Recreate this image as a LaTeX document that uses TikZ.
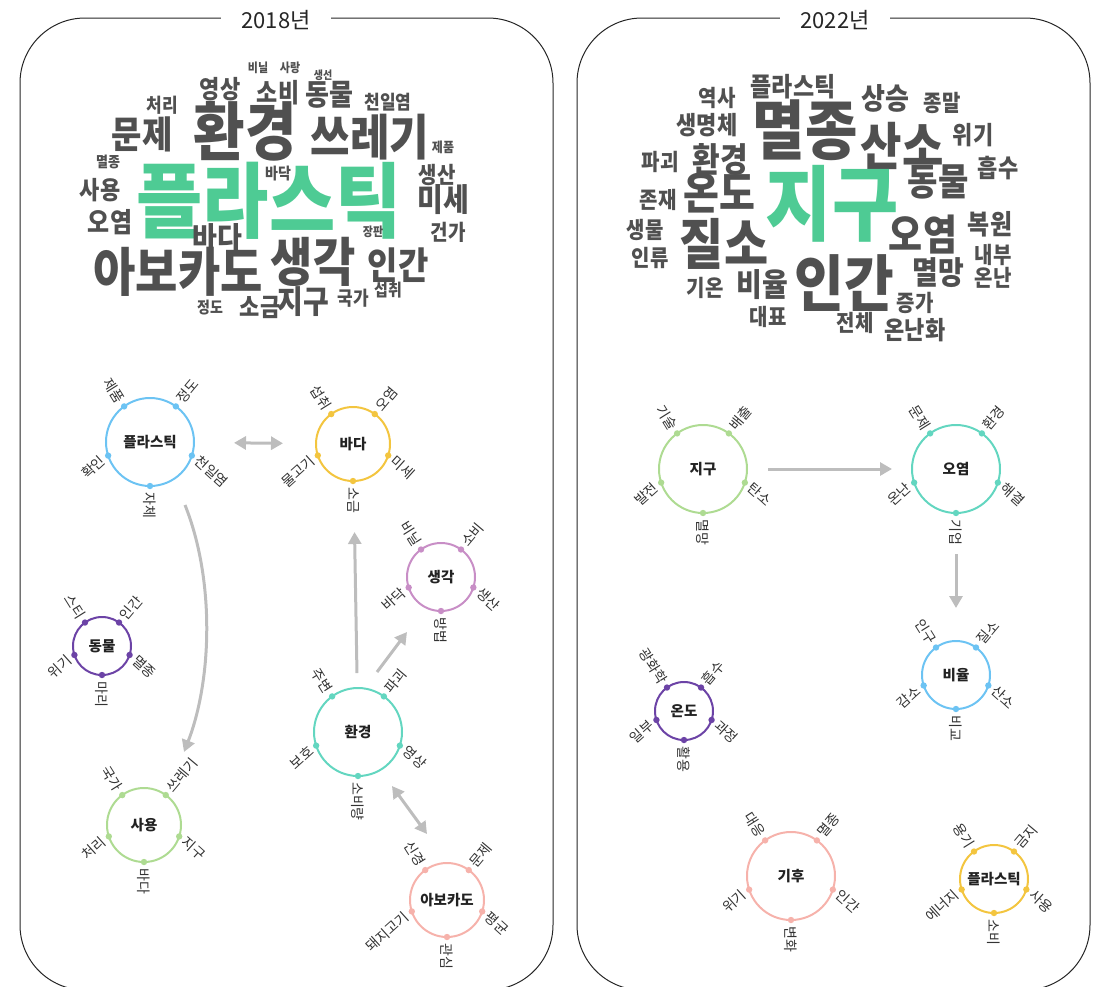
\documentclass[tikz,border=0pt]{standalone}
\usepackage{fontspec}
\usepackage{graphicx}
\newfontfamily\kr{Noto Sans CJK KR}
\usetikzlibrary{arrows.meta,calc}
\definecolor{wcgray}{HTML}{505050}
\definecolor{wcgreen}{HTML}{4ECB94}
\definecolor{hubtext}{HTML}{222222}
\definecolor{labtext}{HTML}{333333}
\definecolor{arrgray}{HTML}{BDBDBD}
\definecolor{cblue}{HTML}{6CC3F3}
\definecolor{cyellow}{HTML}{F3C53F}
\definecolor{cpink}{HTML}{C88EC6}
\definecolor{cpurple}{HTML}{6C43A6}
\definecolor{cteal}{HTML}{63D6C0}
\definecolor{cgreen}{HTML}{AEDB92}
\definecolor{csalmon}{HTML}{F6B2AB}
\newcommand{\tallword}[1]{\scalebox{1}[1.14]{#1}}
\tikzset{
  wc/.style={inner sep=0pt, text=wcgray, font={\kr\bfseries\fontsize{#1}{#1}\selectfont}},
  wcg/.style={inner sep=0pt, text=wcgreen, font={\kr\bfseries\fontsize{#1}{#1}\selectfont}},
  hub/.style={circle, draw=#1, line width=2pt, outer sep=0pt, inner sep=0pt, text=hubtext, font={\kr\bfseries\fontsize{14.5}{14.5}\selectfont}},
  lab/.style={inner sep=1pt, text=labtext, font={\kr\fontsize{14}{14}\selectfont}},
  arr/.style={draw=arrgray, line width=3pt, -{Triangle[length=12pt,width=13pt]}},
  dbl/.style={draw=arrgray, line width=3pt, {Triangle[length=12pt,width=13pt]}-{Triangle[length=12pt,width=13pt]}},
  frm/.style={draw=black!85, line width=1pt, rounded corners=65pt},
  ttl/.style={fill=white, inner xsep=20pt, inner ysep=2pt, text=black!85, font={\kr\fontsize{22}{22}\selectfont}}
}
\newcommand{\hubnet}[6]{%
  \node[hub=#4, minimum size=#3] (#1) at #2 {#5};
  \foreach \ang/\lbl in {#6}{%
    \fill[#4] (#1.\ang) circle[radius=3.2pt];
    \pgfmathsetmacro{\flipit}{and(\ang>90,\ang<270)}%
    \pgfmathsetmacro{\rotit}{\ang==126 ? -58 : (\ang==54 ? 50 : (\ang==-18 ? -42 : (\ang==-90 ? -90 : 42)))}%
    \pgfmathsetmacro{\pang}{\ang==-18 ? -28 : (\ang==198 ? 208 : \ang)}%
    \ifdim\flipit pt>0.5pt
      \node[lab, rotate=\rotit, anchor=east] at ($(#1.\ang)+(\pang:5pt)$) {\lbl};
    \else
      \node[lab, rotate=\rotit, anchor=west] at ($(#1.\ang)+(\pang:5pt)$) {\lbl};
    \fi
  }%
}
\begin{document}
\begin{tikzpicture}[x=1pt,y=-1pt]
\useasboundingbox (0,0) rectangle (1109,986);
% frames
\draw[frm] (20,18) rectangle (553,990);
\draw[frm] (577,18) rectangle (1090,990);
\node[ttl] (t18) at (276,20) {2018년};
\node[ttl] (t22) at (835,20) {2022년};

% ---------- 2018 word cloud ----------
\node[wc=11] (w1) at (258,68) {\tallword{비닐}};
\node[wc=11] (w2) at (290,68) {\tallword{사랑}};
\node[wc=10] (w3) at (323,75) {\tallword{생선}};
\node[wc=22] (w4) at (220,89) {\tallword{영상}};
\node[wc=23] (w5) at (278,93) {\tallword{소비}};
\node[wc=26] (w6) at (329,95) {\tallword{동물}};
\node[wc=17] (w7) at (388,102) {\tallword{천일염}};
\node[wc=17] (w8) at (162,105) {\tallword{처리}};
\node[wc=33] (w9) at (142,134) {\tallword{문제}};
\node[wc=56] (w10) at (245,131) {\tallword{환경}};
\node[wc=43] (w11) at (370,137) {\tallword{쓰레기}};
\node[wc=12] (w12) at (443,147) {\tallword{제품}};
\node[wc=13] (w13) at (108,162) {\tallword{멸종}};
\node[wcg=72] (w14) at (269,201) {\tallword{플라스틱}};
\node[wc=14] (w15) at (278,174) {\tallword{바닥}};
\node[wc=20] (w16) at (437,175) {\tallword{생산}};
\node[wc=22] (w17) at (100,190) {\tallword{사용}};
\node[wc=28] (w18) at (443,200) {\tallword{미세}};
\node[wc=24] (w19) at (110,222) {\tallword{오염}};
\node[wc=27] (w20) at (217,238) {\tallword{바다}};
\node[wc=11] (w21) at (373,232) {\tallword{장판}};
\node[wc=19] (w22) at (448,232) {\tallword{건가}};
\node[wc=46] (w23) at (178,272) {\tallword{아보카도}};
\node[wc=46] (w24) at (313,262) {\tallword{생각}};
\node[wc=33] (w25) at (398,265) {\tallword{인간}};
\node[wc=22] (w26) at (260,307) {\tallword{소금}};
\node[wc=28] (w27) at (303,302) {\tallword{지구}};
\node[wc=17] (w28) at (353,298) {\tallword{국가}};
\node[wc=15] (w29) at (388,290) {\tallword{섭취}};
\node[wc=14] (w30) at (210,308) {\tallword{정도}};

% ---------- 2022 word cloud ----------
\node[wc=23] (v1) at (793,87) {\tallword{플라스틱}};
\node[wc=20] (v2) at (717,98) {\tallword{역사}};
\node[wc=26] (v3) at (885,98) {\tallword{상승}};
\node[wc=20] (v4) at (942,103) {\tallword{종말}};
\node[wc=22] (v5) at (707,125) {\tallword{생명체}};
\node[wc=57] (v6) at (805,130) {\tallword{멸종}};
\node[wc=45] (v7) at (902,146) {\tallword{산소}};
\node[wc=22] (v8) at (973,135) {\tallword{위기}};
\node[wc=20] (v9) at (660,162) {\tallword{파괴}};
\node[wc=30] (v10) at (720,160) {\tallword{환경}};
\node[wc=22] (v11) at (998,168) {\tallword{흡수}};
\node[wc=33] (v12) at (938,182) {\tallword{동물}};
\node[wc=39] (v13) at (719,193) {\tallword{온도}};
\node[wcg=72] (v14) at (832,204) {\tallword{지구}};
\node[wc=20] (v15) at (658,200) {\tallword{존재}};
\node[wc=20] (v16) at (645,230) {\tallword{생물}};
\node[wc=48] (v17) at (724,244) {\tallword{질소}};
\node[wc=37] (v18) at (923,235) {\tallword{오염}};
\node[wc=24] (v19) at (990,224) {\tallword{복원}};
\node[wc=20] (v20) at (650,258) {\tallword{인류}};
\node[wc=20] (v21) at (993,255) {\tallword{내부}};
\node[wc=54] (v22) at (844,283) {\tallword{인간}};
\node[wc=28] (v23) at (938,273) {\tallword{멸망}};
\node[wc=20] (v24) at (993,278) {\tallword{온난}};
\node[wc=20] (v25) at (705,288) {\tallword{기온}};
\node[wc=28] (v26) at (762,285) {\tallword{비율}};
\node[wc=20] (v27) at (915,303) {\tallword{증가}};
\node[wc=20] (v28) at (768,317) {\tallword{대표}};
\node[wc=20] (v29) at (855,323) {\tallword{전체}};
\node[wc=22] (v30) at (915,330) {\tallword{온난화}};

% ---------- 2018 network ----------
\hubnet{p18}{(150,442)}{88pt}{cblue}{플라스틱}{126/제품, 54/정도, -18/천일염, -90/자체, 198/확인}
\hubnet{sea18}{(353,444)}{74pt}{cyellow}{바다}{126/섭취, 54/오염, -18/미세, -90/소금, 198/물고기}
\hubnet{think18}{(441,577)}{68pt}{cpink}{생각}{126/비닐, 54/소비, -18/생산, -90/방법, 198/바닥}
\hubnet{ani18}{(102,646)}{58pt}{cpurple}{동물}{126/스티, 54/인간, -18/멸종, -90/마리, 198/위기}
\hubnet{env18}{(358,732)}{88pt}{cteal}{환경}{126/주변, 54/파괴, -18/영상, -90/소비량, 198/보호}
\hubnet{use18}{(144,825)}{74pt}{cgreen}{사용}{126/국가, 54/쓰레기, -18/지구, -90/바다, 198/처리}
\hubnet{avo18}{(447,900)}{74pt}{csalmon}{아보카도}{126/신경, 54/문제, -18/평균, -90/관심, 198/돼지고기}

\draw[dbl, shorten <=40pt, shorten >=33pt] (p18) -- (sea18);
\coordinate (a1s) at (185,505);
\coordinate (a1e) at (184,752);
\draw[arr] (a1s) .. controls (215,580) and (212,680) .. (a1e);
\draw[arr, shorten <=15pt, shorten >=51pt] (env18) -- (sea18);
\coordinate (a3s) at (377,672);
\coordinate (a3e) at (407,632);
\draw[arr] (a3s) -- (a3e);
\coordinate (a4s) at (392,786);
\coordinate (a4e) at (427,834);
\draw[dbl] (a4s) -- (a4e);

% ---------- 2022 network ----------
\hubnet{earth22}{(703,469)}{88pt}{cgreen}{지구}{126/기술, 54/배출, -18/탄소, -90/멸망, 198/발전}
\hubnet{pol22}{(956,469)}{88pt}{cteal}{오염}{126/문제, 54/환경, -18/해결, -90/기업, 198/온난}
\hubnet{ratio22}{(956,675)}{68pt}{cblue}{비율}{126/인구, 54/질소, -18/산소, -90/비교, 198/감소}
\hubnet{temp22}{(684,711)}{58pt}{cpurple}{온도}{126/광화학, 54/흡수, -18/과정, -90/활용, 198/일부}
\hubnet{clim22}{(791,876)}{88pt}{csalmon}{기후}{126/대응, 54/멸종, -18/인간, -90/변화, 198/위기}
\hubnet{plas22}{(994,879)}{68pt}{cyellow}{플라스틱}{126/용기, 54/금지, -18/사용, -90/소비, 198/에너지}

\draw[arr, shorten <=21pt, shorten >=20pt] (earth22) -- (pol22);
\draw[arr, shorten <=41pt, shorten >=33pt] (pol22) -- (ratio22);
\end{tikzpicture}
\end{document}
